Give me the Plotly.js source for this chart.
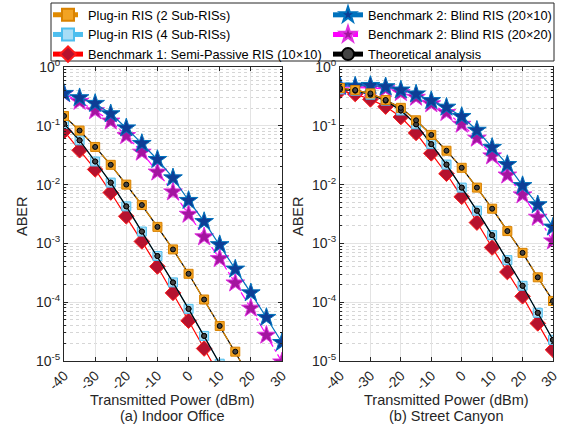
<!DOCTYPE html>
<html><head><meta charset="utf-8">
<script src="https://cdn.plot.ly/plotly-3.0.1.min.js"></script>
<style>body{margin:0;background:#fff}#c{width:566px;height:426px}</style>
</head><body><div id="c"></div>
<script>
// ---- Data ----
const power = [-40,-35,-30,-25,-20,-15,-10,-5,0,5,10,15,20,25,30];
const xTicks = [-40,-30,-20,-10,0,10,20,30];
const xTickText = ['-40','-30','-20','-10','0','10','20','30'];
const yTicks = [1e-5,1e-4,1e-3,1e-2,1e-1,1];
const yTickText = ['10<sup>-5</sup>','10<sup>-4</sup>','10<sup>-3</sup>','10<sup>-2</sup>','10<sup>-1</sup>','10<sup>0</sup>'];

// (a) Indoor Office
const indoorPlug2 = [0.147,0.083,0.0437,0.0217,0.0100,0.00449,0.00191,7.9e-4,3.04e-4,1.11e-4,3.94e-5,1.44e-5,5.0e-6];
const indoorPlug4 = [0.108,0.0566,0.0247,0.0108,0.00426,0.00159,6.1e-4,2.17e-4,7.7e-5,2.67e-5,9.0e-6];
const indoorBench1 = [0.081,0.0384,0.0181,0.00733,0.00289,0.00108,4.05e-4,1.44e-4,4.84e-5,1.63e-5,5.6e-6];
const indoorBlind2010 = [0.355,0.30,0.24,0.16,0.092,0.050,0.0267,0.0130,0.00537,0.00235,9.5e-4,3.65e-4,1.44e-4,5.5e-5,2.06e-5];
const indoorBlind2020 = [0.35,0.26,0.18,0.12,0.068,0.0355,0.0163,0.0075,0.00312,0.00129,5.5e-4,2.12e-4,7.9e-5,2.74e-5,9.6e-6];

// (b) Street Canyon
const streetPlug2 = [0.438,0.405,0.356,0.275,0.202,0.124,0.070,0.0377,0.0193,0.00889,0.00389,0.00162,6.9e-4,2.65e-4,1.05e-4];
const streetPlug4 = [0.416,0.395,0.338,0.268,0.182,0.106,0.0488,0.0219,0.00889,0.0036,0.00138,5.19e-4,1.9e-4,6.6e-5,2.29e-5];
const streetBench1 = [0.395,0.347,0.282,0.212,0.141,0.0757,0.034,0.0153,0.0062,0.00226,8.5e-4,3.26e-4,1.26e-4,4.36e-5,1.55e-5];
const streetBlind2010 = [0.473,0.473,0.485,0.461,0.405,0.347,0.268,0.207,0.144,0.0839,0.0429,0.0219,0.0096,0.00454,0.00189];
const streetBlind2020 = [0.461,0.449,0.438,0.427,0.366,0.305,0.236,0.168,0.106,0.0615,0.0307,0.0145,0.00668,0.00278,0.0011];

const names = {
  plug2:'Plug-in RIS (2 Sub-RISs)',
  plug4:'Plug-in RIS (4 Sub-RISs)',
  bench1:'Benchmark 1: Semi-Passive RIS (10\u00d710)',
  b2010:'Benchmark 2: Blind RIS (20\u00d710)',
  b2020:'Benchmark 2: Blind RIS (20\u00d720)',
  theo:'Theoretical analysis'
};

// ---- Styles ----
const sty = {
  plug2:{line:{color:'#E08A00',width:1.2,dash:'dashdot'},marker:{symbol:'square',size:9,color:'#F2A323',line:{color:'#D98200',width:1}},rank:1,lg:'legend'},
  plug4:{line:{color:'#4DBEEE',width:1.2},marker:{symbol:'square',size:9,color:'#A8DDF6',line:{color:'#4DBEEE',width:1}},rank:2,lg:'legend'},
  bench1:{line:{color:'#FF0000',width:1.2},marker:{symbol:'diamond',size:12,color:'#B5122E',line:{color:'#FF1A1A',width:1}},rank:3,lg:'legend'},
  b2010:{line:{color:'#0072BD',width:1.2},marker:{symbol:'star',size:14,color:'#0D3E96',line:{color:'#0072BD',width:1}},rank:1,lg:'legend2'},
  b2020:{line:{color:'#FF00FF',width:1.2,dash:'dashdot'},marker:{symbol:'star',size:14,color:'#A3159F',line:{color:'#E030E0',width:1}},rank:2,lg:'legend2'},
  theo:{line:{color:'#000000',width:1.2},marker:{symbol:'circle',size:5,color:'#444444',line:{color:'#000000',width:1}},rank:3,lg:'legend2'}
};

function tr(key, y, ax, show){
  const s = sty[key];
  return {x: power.slice(0,y.length), y: y, xaxis: ax==1?'x':'x2', yaxis: ax==1?'y':'y2',
    type:'scatter', mode:'lines+markers', name: names[key], showlegend: show, legend: s.lg, legendrank: s.rank,
    line: s.line, marker: s.marker, cliponaxis: true};
}

const data = [
  tr('bench1', indoorBench1, 1, true),
  tr('plug4', indoorPlug4, 1, true),
  tr('theo', indoorPlug4, 1, false),
  tr('b2020', indoorBlind2020, 1, true),
  tr('b2010', indoorBlind2010, 1, true),
  tr('theo', indoorPlug2, 1, true),
  tr('plug2', indoorPlug2, 1, true),
  tr('bench1', streetBench1, 2, false),
  tr('plug4', streetPlug4, 2, false),
  tr('theo', streetPlug4, 2, false),
  tr('b2020', streetBlind2020, 2, false),
  tr('b2010', streetBlind2010, 2, false),
  tr('theo', streetPlug2, 2, false),
  tr('plug2', streetPlug2, 2, false)
];
data.push(Object.assign(tr('theo', indoorPlug4, 1, false), {mode:'markers'}));
data.push(Object.assign(tr('theo', indoorPlug2, 1, false), {mode:'markers'}));
data.push(Object.assign(tr('theo', streetPlug4, 2, false), {mode:'markers'}));
data.push(Object.assign(tr('theo', streetPlug2, 2, false), {mode:'markers'}));

const minorVals = [];
for (let e=-5; e<0; e++) for (let m=2; m<=9; m++) minorVals.push(m*Math.pow(10,e));

const font = {family:'Liberation Sans, Arial, sans-serif', color:'#262626'};
function xax(dom, anchor){
  return {domain: dom, anchor: anchor, range:[-40,30], tickmode:'array', tickvals:xTicks, ticktext:xTickText,
    tickangle:-45, tickfont:{size:14}, showline:true, linecolor:'#262626', linewidth:1, mirror:'ticks',
    ticks:'inside', ticklen:4, tickcolor:'#262626', showgrid:true, gridcolor:'#E3E3E3', gridwidth:1, zeroline:false};
}
function yax(anchor){
  return {domain:[0.1526,0.8427], anchor: anchor, type:'log', range:[-5,0], tickmode:'array', tickvals:yTicks, ticktext:yTickText,
    tickfont:{size:14}, showline:true, linecolor:'#262626', linewidth:1, mirror:'ticks', ticks:'inside', ticklen:4,
    tickcolor:'#262626', showgrid:true, gridcolor:'#E3E3E3', gridwidth:1, zeroline:false,
    minor:{tickmode:'array', tickvals:minorVals, showgrid:true, gridcolor:'#D6D6D6', griddash:'dot', gridwidth:1, ticks:'inside', ticklen:2, tickcolor:'#262626'}};
}

function ann(text, x, y, size, angle){
  return {text:text, xref:'paper', yref:'paper', x:x/566, y:1-y/426, xanchor:'center', yanchor:'middle',
    showarrow:false, textangle:angle||0, font:{size:size}};
}
function leg(x){
  return {orientation:'v', x:x/566, xanchor:'left', y:1, yanchor:'top', bgcolor:'rgba(255,255,255,0)',
    borderwidth:0, font:{size:12.8, color:'#000'}, itemwidth:30, itemsizing:'constant', traceorder:'normal', tracegroupgap:0};
}

const layout = {
  width:566, height:426, margin:{l:0,r:0,t:0,b:0}, paper_bgcolor:'#fff', plot_bgcolor:'#fff',
  font: font, showlegend:true,
  xaxis: xax([0.1131,0.4982],'y'),
  yaxis: yax('x'),
  xaxis2: xax([0.6007,0.9770],'y2'),
  yaxis2: yax('x2'),
  legend: leg(48),
  legend2: leg(328),
  shapes:[{type:'rect', xref:'paper', yref:'paper', x0:51/566, x1:554/566, y0:1-61/426, y1:1-3/426,
    line:{color:'#262626', width:1}, fillcolor:'rgba(0,0,0,0)'}],
  annotations:[
    ann('ABER', 22, 216, 14.5, -90),
    ann('ABER', 298, 216, 14.5, -90),
    ann('Transmitted Power (dBm)', 172, 400, 14.5),
    ann('Transmitted Power (dBm)', 446, 400, 14.5),
    ann('(a) Indoor Office', 172, 416, 14.5),
    ann('(b) Street Canyon', 446, 416, 14.5)
  ]
};
Plotly.newPlot('c', data, layout, {staticPlot:true, displayModeBar:false});
</script></body></html>
